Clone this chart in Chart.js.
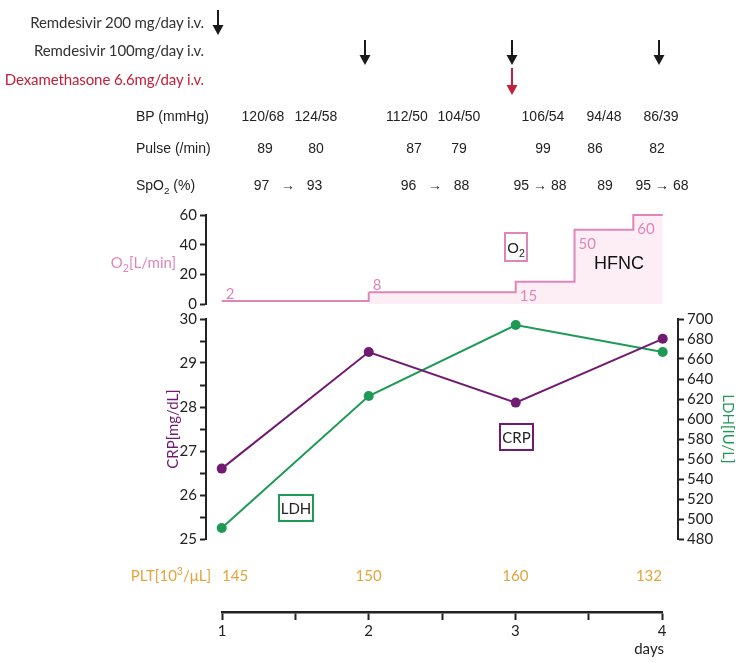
<!DOCTYPE html>
<html>
<head>
<meta charset="utf-8">
<script src="https://cdn.jsdelivr.net/npm/chart.js@4.4.0/dist/chart.umd.min.js"></script>
<style>
  body { margin: 0; background: #fff; }
  #wrap { position: relative; width: 750px; height: 663px; overflow: hidden; }
  #wrap canvas { position: absolute; left: 0; }
  .t { position: absolute; white-space: pre; line-height: 1; }
  .box { position: absolute; box-sizing: border-box; display: flex; align-items: center; justify-content: center; }
  sub, sup { font-size: 70%; line-height: 0; }
</style>
</head>
<body>
<div id="wrap">
  <canvas id="o2" width="750" height="320" style="top:0"></canvas>
  <canvas id="main" width="750" height="260" style="top:300px"></canvas>
  <canvas id="axis" width="750" height="103" style="top:560px"></canvas>
</div>
<script>
// data
const days = [1, 2, 3, 4];
const crp = [26.6, 29.25, 28.1, 29.55];
const ldh = [491, 623, 694, 667];
const plt = [145, 150, 160, 132];
const o2Times = [1, 2, 3, 3.4, 3.8, 4];
const o2Flow = [2, 8, 15, 50, 60, 60];
const o2Labels = ["2", "8", "15", "50", "60"];
const remdesivir200Days = [1];
const remdesivir100Days = [2, 3, 4];
const dexamethasoneDays = [3];
const bp = ["120/68", "124/58", "112/50", "104/50", "106/54", "94/48", "86/39"];
const pulse = ["89", "80", "87", "79", "99", "86", "82"];
const spo2 = ["97   →   93", "96   →   88", "95 → 88", "89", "95 → 68"];

// colours / fonts
const INK = "#222";
const PURPLE = "#701a72";
const GREEN = "#1e9a56";
const PINK = "#df86b9";
const PINK_FILL = "#fdeef6";
const GOLD = "#e3a43c";
const RED = "#c3203b";
const HUM = 'Lato, "Noto Sans", sans-serif';
const ARI = '"Liberation Sans", Arial, sans-serif';

// shared x range so day 1..4 sit at the same pixels in both panels
const X_MIN = 0.893;
const X_MAX = 4.104;

const wrap = document.getElementById("wrap");

function label(html, x, y, font, color, align, spacing) {
  const el = document.createElement("div");
  el.className = "t";
  el.innerHTML = html;
  el.style.left = x + "px";
  el.style.top = y + "px";
  el.style.font = font;
  el.style.color = color || INK;
  if (spacing) el.style.letterSpacing = spacing;
  const tx = align === "right" ? "-100%" : align === "left" ? "0" : "-50%";
  el.style.transform = `translate(${tx}, -50%)`;
  wrap.appendChild(el);
  return el;
}

function box(html, x0, y0, x1, y1, border, font) {
  const el = document.createElement("div");
  el.className = "box";
  el.innerHTML = "<span>" + html + "</span>";
  Object.assign(el.style, {
    left: x0 + "px", top: y0 + "px", width: (x1 - x0) + "px", height: (y1 - y0) + "px",
    border: "2px solid " + border, font: font, color: INK,
  });
  wrap.appendChild(el);
}

const axisGrid = { drawOnChartArea: false, tickLength: 6, tickWidth: 2, tickColor: INK };
const axisBorder = { color: INK, width: 2 };
const tickFont = { family: HUM, size: 15 };

const arrowRows = [
  { days: remdesivir200Days, top: 10, bottom: 35, color: "#1a1a1a" },
  { days: remdesivir100Days, top: 40, bottom: 65, color: "#1a1a1a" },
  { days: dexamethasoneDays, top: 68, bottom: 95, color: RED },
];

const arrowPlugin = {
  id: "arrows",
  afterDraw(chart) {
    const { ctx } = chart;
    const x = chart.scales.x;
    arrowRows.forEach((row) => {
      row.days.forEach((d) => {
        const px = Math.round(x.getPixelForValue(d)) - 4;
        ctx.save();
        ctx.strokeStyle = row.color;
        ctx.fillStyle = row.color;
        ctx.lineWidth = 2;
        ctx.beginPath();
        ctx.moveTo(px, row.top);
        ctx.lineTo(px, row.bottom - 8);
        ctx.stroke();
        ctx.beginPath();
        ctx.moveTo(px - 5.5, row.bottom - 10);
        ctx.lineTo(px + 5.5, row.bottom - 10);
        ctx.lineTo(px, row.bottom);
        ctx.closePath();
        ctx.fill();
        ctx.restore();
      });
    });
  },
};

// O2 step panel
const o2Chart = new Chart(document.getElementById("o2"), {
  type: "line",
  data: {
    datasets: [
      {
        data: o2Times.map((t, i) => ({ x: t, y: o2Flow[i] })),
        borderColor: PINK,
        borderWidth: 2,
        stepped: true,
        pointRadius: 0,
        fill: "origin",
        backgroundColor: PINK_FILL,
        clip: false,
        segment: {
          backgroundColor: (c) => (c.p0DataIndex === 0 ? "rgba(0,0,0,0)" : PINK_FILL),
        },
      },
    ],
  },
  options: {
    responsive: false,
    animation: false,
    events: [],
    layout: { padding: { left: 160, right: 72, top: 215, bottom: 16 } },
    plugins: { legend: { display: false }, tooltip: { enabled: false } },
    scales: {
      x: { type: "linear", min: X_MIN, max: X_MAX, display: false },
      y: {
        min: 0,
        max: 60,
        ticks: { stepSize: 20, autoSkip: false, color: INK, font: tickFont, padding: 3 },
        grid: axisGrid,
        border: axisBorder,
        afterFit: (s) => { s.width = 46; },
      },
    },
  },
  plugins: [arrowPlugin],
});

// CRP / LDH panel
const mainChart = new Chart(document.getElementById("main"), {
  type: "line",
  data: {
    datasets: [
      {
        label: "CRP",
        data: days.map((d, i) => ({ x: d, y: crp[i] })),
        yAxisID: "yCRP",
        borderColor: PURPLE,
        backgroundColor: PURPLE,
        borderWidth: 2,
        pointRadius: 5,
        pointBorderWidth: 0,
        clip: false,
      },
      {
        label: "LDH",
        data: days.map((d, i) => ({ x: d, y: ldh[i] })),
        yAxisID: "yLDH",
        borderColor: GREEN,
        backgroundColor: GREEN,
        borderWidth: 2,
        pointRadius: 5,
        pointBorderWidth: 0,
        clip: false,
      },
    ],
  },
  options: {
    responsive: false,
    animation: false,
    events: [],
    layout: { padding: { left: 160, right: 9, top: 19, bottom: 21 } },
    plugins: { legend: { display: false }, tooltip: { enabled: false } },
    scales: {
      x: { type: "linear", min: X_MIN, max: X_MAX, display: false },
      yCRP: {
        position: "left",
        min: 25,
        max: 30,
        ticks: {
          stepSize: 0.5,
          autoSkip: false,
          color: INK,
          font: tickFont,
          padding: 3,
          callback: (v) => (Number.isInteger(v) ? v : ""),
        },
        grid: axisGrid,
        border: axisBorder,
        title: { display: true, text: "CRP[mg/dL]", color: PURPLE, font: tickFont, padding: 4 },
        afterFit: (s) => { s.width = 46; },
      },
      yLDH: {
        position: "right",
        min: 480,
        max: 700,
        ticks: { stepSize: 20, autoSkip: false, color: INK, font: tickFont, padding: 3 },
        grid: axisGrid,
        border: axisBorder,
        title: { display: true, text: "LDH[IU/L]", color: GREEN, font: tickFont, padding: 4 },
        afterFit: (s) => { s.width = 63; },
      },
    },
  },
});

// days axis
const axisChart = new Chart(document.getElementById("axis"), {
  type: "line",
  data: { datasets: [] },
  options: {
    responsive: false,
    animation: false,
    events: [],
    layout: { padding: { left: 222, right: 88, top: 10, bottom: 0 } },
    plugins: { legend: { display: false }, tooltip: { enabled: false } },
    scales: {
      x: {
        type: "linear",
        position: "bottom",
        min: 1,
        max: 4,
        ticks: {
          stepSize: 0.5,
          autoSkip: false,
          maxRotation: 0,
          color: INK,
          font: tickFont,
          padding: 2,
          callback: (v) => (Number.isInteger(v) ? v : ""),
        },
        grid: { drawOnChartArea: false, tickLength: 8, tickWidth: 2, tickColor: INK },
        border: { color: INK, width: 2.5 },
        afterFit: (s) => { s.height = 51; },
      },
      y: { display: false },
    },
  },
});

// annotations
const drugFont = "15px " + HUM;
label("Remdesivir 200 mg/day i.v.", 204, 22, drugFont, "#333", "right", "-0.1px");
label("Remdesivir 100mg/day i.v.", 204, 50, drugFont, "#333", "right", "-0.1px");
label("Dexamethasone 6.6mg/day i.v.", 204, 79, drugFont, RED, "right", "-0.1px");

const tableFont = "14px " + ARI;
label("BP (mmHg)", 136, 116, tableFont, INK, "left");
label("Pulse (/min)", 136, 148, tableFont, INK, "left");
label("SpO<sub>2</sub> (%)", 136, 185, tableFont, INK, "left");
const bpX = [263, 316, 407, 459, 543, 604, 661];
const pulseX = [265, 316, 414, 459, 543, 595, 657];
const spo2X = [288, 435, 540, 605, 662];
bp.forEach((s, i) => label(s, bpX[i], 116, tableFont, INK));
pulse.forEach((s, i) => label(s, pulseX[i], 148, tableFont, INK));
spo2.forEach((s, i) => label(s, spo2X[i], 185, tableFont, INK));

// O2 panel labels
label("O<sub>2</sub>[L/min]", 176, 262, "15px " + HUM, PINK, "right");
const ox = o2Chart.scales.x;
const oy = o2Chart.scales.y;
o2Labels.forEach((s, i) => {
  const px = ox.getPixelForValue(o2Times[i]) + 4;
  const py = oy.getPixelForValue(o2Flow[i]) + (i < 2 ? -8 : 13);
  label(s, px, py, "15px " + HUM, PINK, "left");
});
box("O<sub>2</sub>", 504, 232, 528, 262, PINK, "15px " + ARI);
label("HFNC", 619, 263, "18px " + ARI, "#111");

// marker boxes
box("CRP", 499, 423, 534, 451, PURPLE, "15px " + HUM);
box("LDH", 278, 494, 314, 522, GREEN, "15px " + HUM);

// platelets
const ax = axisChart.scales.x;
label("PLT[10<sup>3</sup>/μL]", 211, 575, "15px " + HUM, GOLD, "right");
plt.forEach((v, i) => {
  const px = ax.getPixelForValue(days[i]);
  const align = i === 0 ? "left" : i === plt.length - 1 ? "right" : "center";
  label(String(v), px, 575, "15px " + HUM, GOLD, align);
});
label("days", ax.getPixelForValue(4) + 2, 648, "15px " + HUM, INK, "right");
</script>
</body>
</html>
